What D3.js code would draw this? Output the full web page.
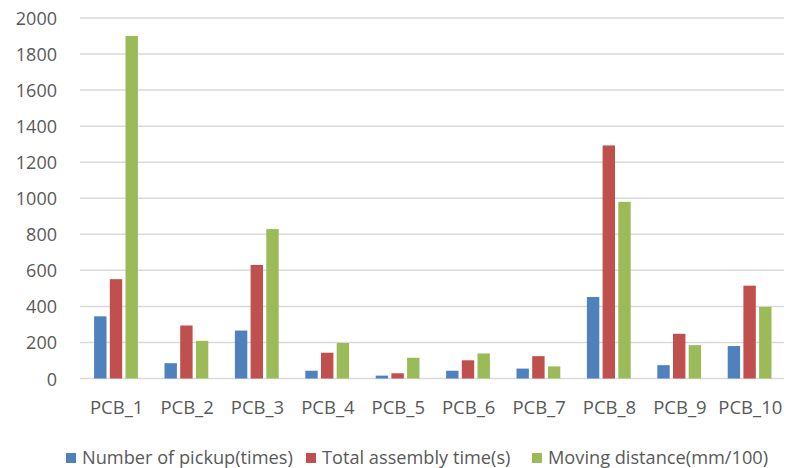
<!DOCTYPE html>
<html>
<head>
<meta charset="utf-8">
<script src="https://cdn.jsdelivr.net/npm/d3@7"></script>
<style>
  html, body { margin: 0; padding: 0; background: #fff; }
  svg { display: block; }
  text { font-family: "Open Sans", "Liberation Sans", sans-serif; fill: #595959; }
</style>
</head>
<body>
<svg id="chart" width="795" height="468"></svg>
<script>
const categories = ["PCB_1","PCB_2","PCB_3","PCB_4","PCB_5","PCB_6","PCB_7","PCB_8","PCB_9","PCB_10"];
const seriesNames = ["Number of pickup(times)","Total assembly time(s)","Moving distance(mm/100)"];
const pickups = [345, 85, 266, 43, 16, 43, 55, 452, 74, 180];
const assemblyTime = [551, 294, 630, 143, 29, 101, 124, 1293, 248, 515];
const movingDistance = [1900, 209, 829, 197, 115, 139, 67, 980, 185, 397];
const yTicks = [0, 200, 400, 600, 800, 1000, 1200, 1400, 1600, 1800, 2000];
const colors = ["#4f81bd", "#c0504d", "#9bbb59"];

const seriesValues = [pickups, assemblyTime, movingDistance];

const svg = d3.select("#chart");
const x0 = d3.scaleBand().domain(categories).range([80, 784]).paddingInner(0).paddingOuter(0);
const x1 = d3.scaleBand().domain(d3.range(seriesNames.length)).range([-21.9, 21.9]).paddingInner(0.21).paddingOuter(0);
const y = d3.scaleLinear().domain([0, 2000]).range([378.5, 18]);

// gridlines
svg.append("g").selectAll("line").data(yTicks).join("line")
  .attr("x1", 80).attr("x2", 784)
  .attr("y1", d => y(d)).attr("y2", d => y(d))
  .attr("stroke", "#d9d9d9").attr("stroke-width", 1.5);

// y tick labels
svg.append("g").selectAll("text").data(yTicks).join("text")
  .attr("x", 57).attr("y", d => y(d))
  .attr("text-anchor", "end").attr("dominant-baseline", "central")
  .attr("font-size", 18)
  .text(d => d);

// bars
const groups = svg.append("g").selectAll("g").data(categories).join("g")
  .attr("transform", c => `translate(${x0(c) + x0.bandwidth() / 2 + 0.8},0)`);
groups.selectAll("rect").data((c, i) => seriesValues.map((vals, s) => ({ s, v: vals[i] })))
  .join("rect")
  .attr("x", d => x1(d.s))
  .attr("width", x1.bandwidth())
  .attr("y", d => y(d.v))
  .attr("height", d => y(0) - y(d.v))
  .attr("fill", d => colors[d.s]);

// x labels
svg.append("g").selectAll("text").data(categories).join("text")
  .attr("x", c => x0(c) + x0.bandwidth() / 2 + 1.5)
  .attr("y", 414)
  .attr("text-anchor", "middle")
  .attr("font-size", 18.5)
  .text(c => c);

// legend
const legendX = [66, 306, 532];
const legend = svg.append("g").selectAll("g").data(seriesNames).join("g")
  .attr("transform", (d, i) => `translate(${legendX[i]},0)`);
legend.append("rect").attr("x", 0).attr("y", 453).attr("width", 10).attr("height", 10)
  .attr("fill", (d, i) => colors[i]);
legend.append("text").attr("x", 16).attr("y", 464).attr("font-size", 18.2).text(d => d);
</script>
</body>
</html>
